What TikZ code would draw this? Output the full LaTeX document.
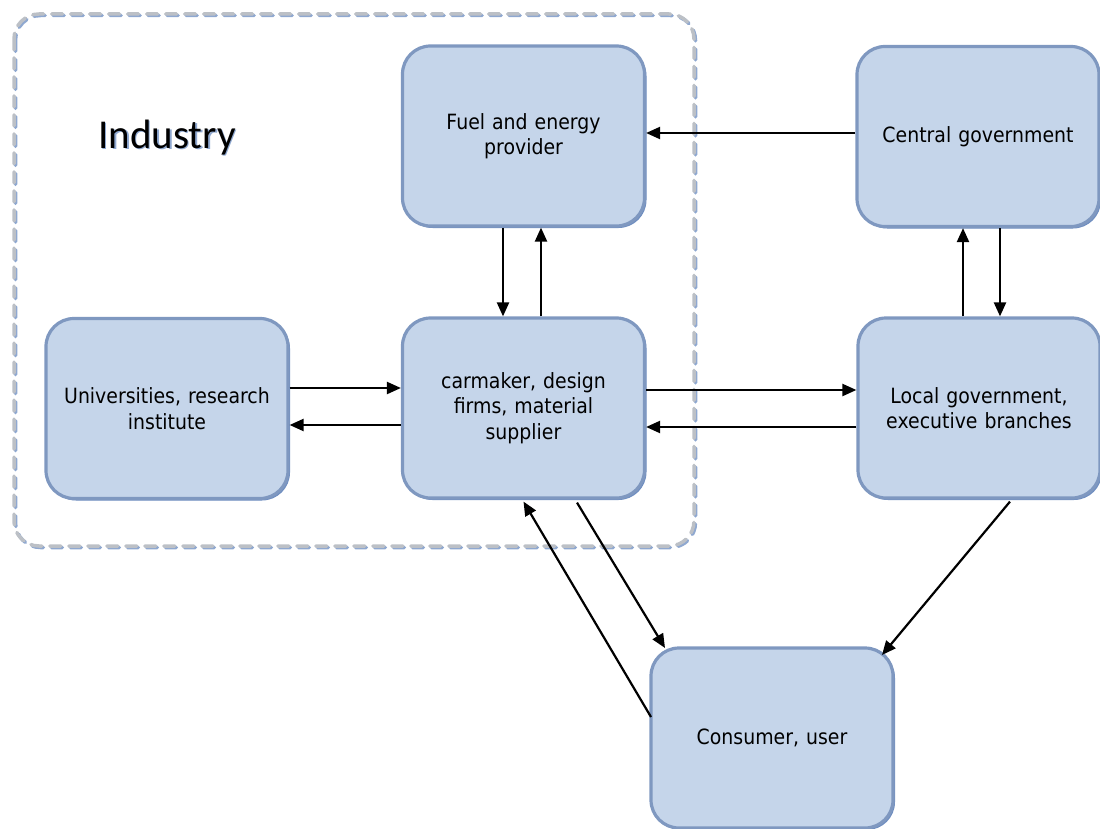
\documentclass[tikz,border=0pt]{standalone}
\usepackage{fontspec}
\usetikzlibrary{arrows.meta,calc}
\newfontfamily\boxfont[FakeStretch=0.9]{DejaVu Sans}
\newfontfamily\indfont{Carlito}
\definecolor{boxfill}{HTML}{C5D5EA}
\definecolor{boxedge}{HTML}{7F98C0}
\definecolor{boxshadow}{HTML}{6F8EC0}
\definecolor{dashgray}{HTML}{BCC0C6}
\definecolor{dashblue}{HTML}{8FA8D0}
\tikzset{
  stakeholder/.style={rectangle, rounded corners=28pt, fill=boxfill, draw=boxedge,
    line width=3.2pt, minimum width=242pt, minimum height=180pt, align=center,
    font=\boxfont\fontsize{21}{25.5}\selectfont, text=black, inner sep=0pt,
    text width=230pt},
  flow/.style={-{Triangle[length=14pt,width=12pt]}, line width=2.2pt, black},
  boxshade/.style={rectangle, rounded corners=28pt, fill=boxshadow,
    minimum width=242pt, minimum height=180pt, inner sep=0pt}
}
\begin{document}
\begin{tikzpicture}[x=1pt,y=-1pt]
\useasboundingbox (0,0) rectangle (1100,829);
% industry region
\draw[dashblue, line width=3.5pt, dash pattern=on 11pt off 8pt, line cap=round, rounded corners=25pt]
  (15.5,15.5) rectangle (695.5,547.5);
\draw[dashgray, line width=3.5pt, dash pattern=on 11pt off 8pt, line cap=round, rounded corners=25pt]
  (14,14) rectangle (694,546);
\node[text=dashblue, font=\indfont\fontsize{41}{44}\selectfont] at (168.5,139) {Industry};
\node[text=black, font=\indfont\fontsize{41}{44}\selectfont] (industry) at (167,137.5) {Industry};
% shadows
\foreach \p in {(525.5,138),(980,138.5),(169,410.5),(525.5,410),(981,410),(774,740)}
  \node[boxshade] at \p {};
% boxes
\node[stakeholder] (fuel) at (523.5,136) {Fuel and energy\\provider};
\node[stakeholder] (central) at (978,136.5) {Central government};
\node[stakeholder] (univ) at (167,408.5) {Universities, research\\institute};
\node[stakeholder] (car) at (523.5,408) {carmaker, design\\firms, material\\supplier};
\node[stakeholder] (local) at (979,408) {Local government,\\executive branches};
\node[stakeholder] (cons) at (772,738) {Consumer, user};
% connectors
\draw[flow] (central.west |- 0,133) -- (fuel.east |- 0,133);
\draw[flow] (fuel.south -| 503,0) -- (car.north -| 503,0);
\draw[flow] (car.north -| 541,0) -- (fuel.south -| 541,0);
\draw[flow] (univ.east |- 0,388) -- (car.west |- 0,388);
\draw[flow] (car.west |- 0,425) -- (univ.east |- 0,425);
\draw[flow] (car.east |- 0,390) -- (local.west |- 0,390);
\draw[flow] (local.west |- 0,427) -- (car.east |- 0,427);
\draw[flow] (local.north -| 963,0) -- (central.south -| 963,0);
\draw[flow] (central.south -| 1000,0) -- (local.north -| 1000,0);
\coordinate (lcStart) at ([xshift=31pt,yshift=-2pt]local.south);
\coordinate (lcEnd) at (882,655);
\draw[flow] (lcStart) -- (lcEnd);
\coordinate (ccStart) at ([xshift=53.5pt,yshift=-3pt]car.south);
\coordinate (ccEnd) at (665,648);
\draw[flow] (ccStart) -- (ccEnd);
\coordinate (ucStart) at (651,717);
\draw[flow] (ucStart) -- ([yshift=-2pt]car.south);
\end{tikzpicture}
\end{document}
